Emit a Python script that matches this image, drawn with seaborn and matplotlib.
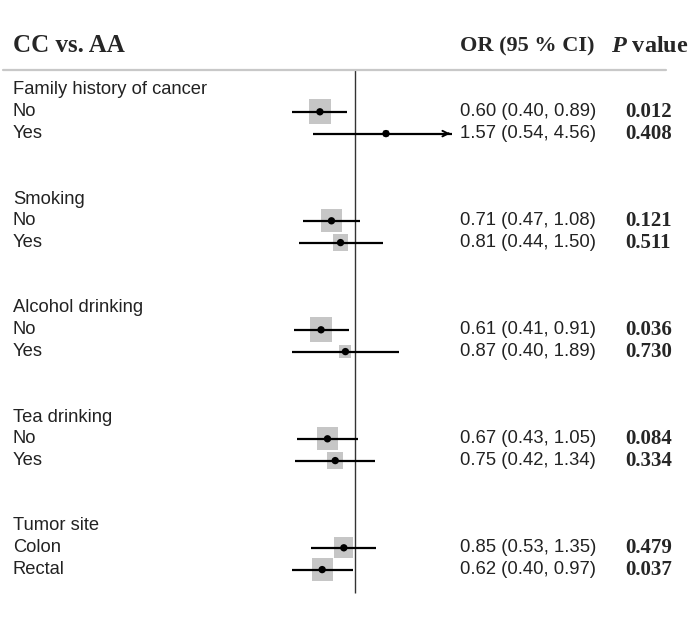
import matplotlib
matplotlib.use("Agg")
import matplotlib.pyplot as plt
import matplotlib.transforms as mtransforms
import numpy as np
import pandas as pd
import seaborn as sns

# data
groups = ["Family history of cancer", "Smoking", "Alcohol drinking", "Tea drinking", "Tumor site"]
subgroups = [["No", "Yes"], ["No", "Yes"], ["No", "Yes"], ["No", "Yes"], ["Colon", "Rectal"]]
or_vals = [0.60, 1.57, 0.71, 0.81, 0.61, 0.87, 0.67, 0.75, 0.85, 0.62]
ci_low = [0.40, 0.54, 0.47, 0.44, 0.41, 0.40, 0.43, 0.42, 0.53, 0.40]
ci_high = [0.89, 4.56, 1.08, 1.50, 0.91, 1.89, 1.05, 1.34, 1.35, 0.97]
p_vals = ["0.012", "0.408", "0.121", "0.511", "0.036", "0.730", "0.084", "0.334", "0.479", "0.037"]
box_weight = [22, 5, 19, 13, 22, 9, 19, 13, 17, 20]

X_CLIP = 4.16  # right end of the plotted OR range; longer CIs get an arrow

sns.set_style("white")
plt.rcParams["font.family"] = ["Liberation Sans", "DejaVu Sans"]
plt.rcParams["mathtext.fontset"] = "custom"
plt.rcParams["mathtext.bfit"] = "Liberation Serif:italic:bold"
plt.rcParams["mathtext.it"] = "Liberation Serif:italic"
plt.rcParams["mathtext.bf"] = "Liberation Serif:bold"
plt.rcParams["mathtext.rm"] = "Liberation Serif"

rows = []
for g, (grp, subs) in enumerate(zip(groups, subgroups)):
    for s, sub in enumerate(subs):
        k = 2 * g + s
        rows.append({
            "group": grp, "sub": sub, "row": 5 * g + s + 1,
            "or": or_vals[k], "lo": ci_low[k], "hi": ci_high[k],
            "p": p_vals[k], "w": box_weight[k],
        })
df = pd.DataFrame(rows)

fig = plt.figure(figsize=(6.92, 6.35), dpi=100)
ax = fig.add_axes([0, 0, 1, 1])
ax.set_xscale("log")
ax.set_xlim(np.exp(-355 / 68.7), np.exp(337 / 68.7))
ax.set_ylim((635 - 90) / 21.8, -90 / 21.8)
ax.axis("off")

# weight boxes
box = np.array([[-0.9, -1], [0.9, -1], [0.9, 1], [-0.9, 1], [-0.9, -1]])
sns.scatterplot(data=df, x="or", y="row", size="w", sizes=(20, 320), size_norm=(5, 22),
                marker=box, color="#c6c6c6", edgecolor="none", legend=False, ax=ax, zorder=2)

# confidence intervals
for _, r in df.iterrows():
    if r["hi"] > X_CLIP:
        ax.hlines(r["row"], r["lo"], X_CLIP * 0.99, color="black", lw=1.6, zorder=3)
        ax.annotate("", xy=(X_CLIP, r["row"]), xytext=(X_CLIP * 0.9, r["row"]),
                    arrowprops=dict(arrowstyle="->", color="black", lw=1.4,
                                    mutation_scale=10), zorder=3)
    else:
        ax.hlines(r["row"], r["lo"], r["hi"], color="black", lw=1.6, zorder=3)

sns.scatterplot(data=df, x="or", y="row", color="black", s=28, edgecolor="none",
                legend=False, ax=ax, zorder=4)

# reference line at OR = 1 and header rule
ax.vlines(1.0, (70 - 90) / 21.8, (593 - 90) / 21.8, color="#333333", lw=1.0, zorder=1)
ax.axhline((70 - 90) / 21.8, xmin=0.004, xmax=0.963, color="#c8c8c8", lw=1.6, zorder=1)

tr = mtransforms.blended_transform_factory(ax.transAxes, ax.transData)
px = lambda x: x / 692

# headers
head_y = (46 - 90) / 21.8
ax.text(px(13), head_y, "CC vs. AA", transform=tr, family="Liberation Serif",
        weight="bold", fontsize=18, va="center", ha="left")
ax.text(px(460), head_y, "OR (95 % CI)", transform=tr, family="Liberation Serif",
        weight="bold", fontsize=16, va="center", ha="left")
ax.text(px(611), head_y, r"$\mathbfit{P}$ value", transform=tr, family="Liberation Serif",
        weight="bold", fontsize=17.5, va="center", ha="left")

for g, grp in enumerate(groups):
    ax.text(px(13), 5 * g, grp, transform=tr, fontsize=13.2, color="#222222",
            va="center", ha="left")

for _, r in df.iterrows():
    ax.text(px(13), r["row"], r["sub"], transform=tr, fontsize=13.2, color="#222222",
            va="center", ha="left")
    ax.text(px(460), r["row"], f"{r['or']:.2f} ({r['lo']:.2f}, {r['hi']:.2f})",
            transform=tr, fontsize=13.3, color="#222222", va="center", ha="left")
    ax.text(px(625), r["row"], r["p"], transform=tr, family="Liberation Serif",
            weight="bold", fontsize=15, va="center", ha="left")

fig.savefig("out.png", dpi=100)
